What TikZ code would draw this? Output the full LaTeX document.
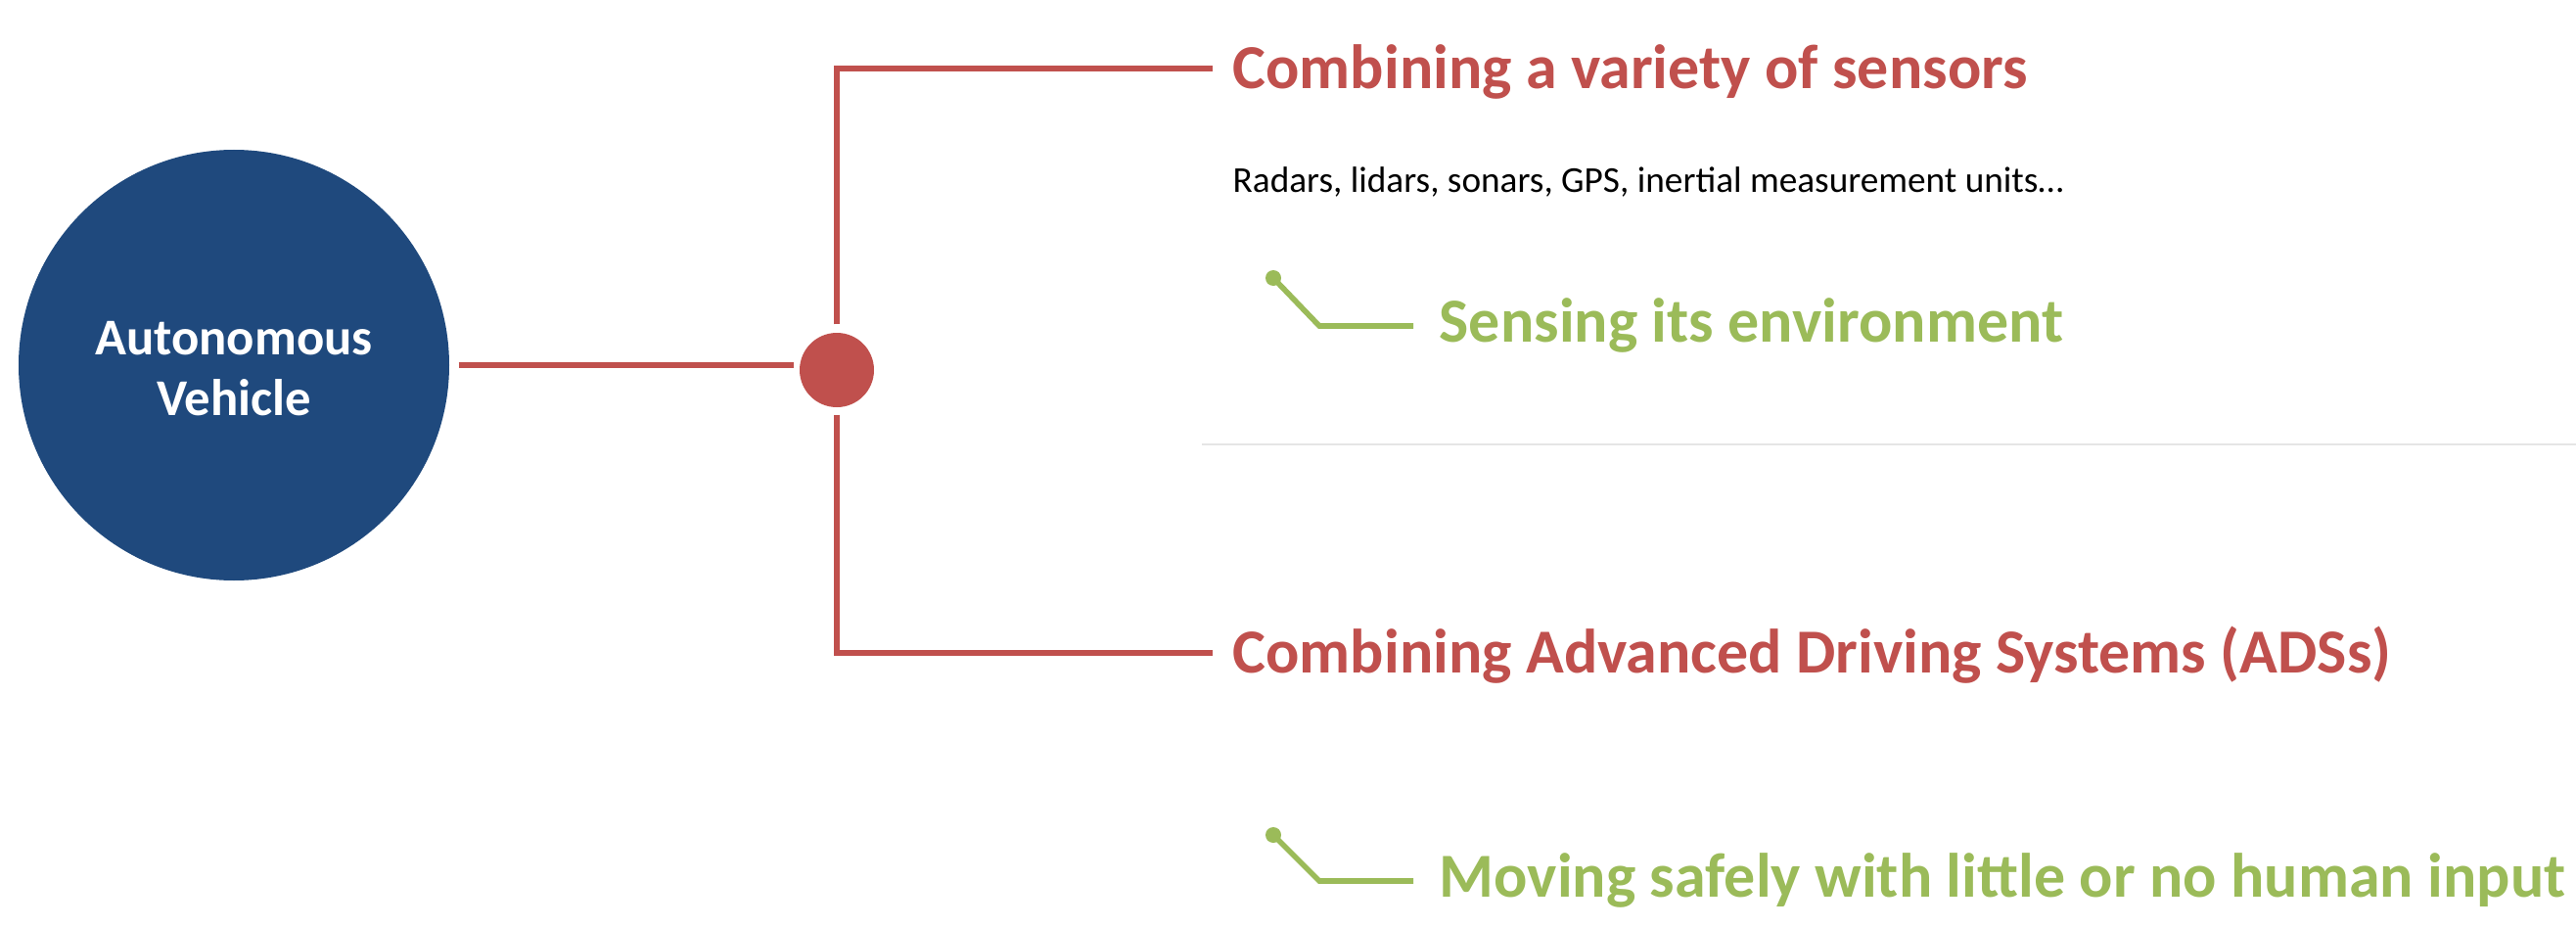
\documentclass[tikz,border=0pt]{standalone}
\usepackage{fontspec}
\setmainfont{Carlito}
\definecolor{avblue}{HTML}{1F497D}
\definecolor{avred}{HTML}{C0504D}
\definecolor{avgreen}{HTML}{9BBB59}
\begin{document}
\begin{tikzpicture}[
		redline/.style={avred,line width=1.7pt},
		greenline/.style={avgreen,line width=1.6pt},
		title/.style={anchor=west,inner sep=0pt,inner xsep=0.2cm,text height=0.41cm,text depth=0pt,
			text=avred,font=\bfseries\fontsize{18.2}{22}\selectfont},
		aim/.style={anchor=west,inner sep=0pt,inner xsep=0.26cm,text height=0.32cm,text depth=0pt,
			text=avgreen,font=\bfseries\fontsize{18.2}{22}\selectfont},
		pin/.style={circle,fill=avgreen,inner sep=0pt,minimum size=0.16cm}
	]
		\useasboundingbox (0,0) rectangle (26.32,9.46);

		% Main circle and hub
		\node[circle,fill=avblue,minimum size=4.4cm,inner sep=0pt,text=white,align=center,
			font=\bfseries\fontsize{15}{17.6}\selectfont] (av) at (2.39,5.73) {};
		\node[text=white,align=center,font=\bfseries\fontsize{15}{17.6}\selectfont] (avtext) at (2.39,5.69)
			{Autonomous\\Vehicle};
		\node[circle,fill=avred,minimum size=0.76cm,inner sep=0pt] (hub) at (8.55,5.68) {};

		% Branch titles
		\node[title] (sensors) at (12.39,8.76) {Combining a variety of sensors};
		\node[title] (ads) at (12.39,2.79) {Combining Advanced Driving Systems (ADSs)};

		% Detail text
		\node[anchor=base west,inner sep=0pt,font=\fontsize{10.6}{13}\selectfont] (detail) at (12.59,7.49)
			{Radars, lidars, sonars, GPS, inertial measurement units\dots};

		% Red branches
		\draw[redline,shorten <=0.09cm,shorten >=0.05cm] (av.east) -- (hub.west |- av.east);
		\draw[redline,shorten <=0.08cm] (hub) |- (sensors.west);
		\draw[redline,shorten <=0.07cm] (hub) |- (ads.west);

		% Separator
		\draw[black!10,line width=0.6pt] (12.28,4.92) -- (26.32,4.92);

		% Green aims
		\node[aim] (sense) at (14.44,6.13) {Sensing its environment};
		\node[pin] (pin1) at (13.01,6.62) {};
		\coordinate (k1) at (13.48,6.13);
		\draw[greenline] (pin1.center) -- (k1) -- (sense.west);

		\node[aim] (move) at (14.44,0.46) {Moving safely with little or no human input};
		\node[pin] (pin2) at (13.01,0.93) {};
		\coordinate (k2) at (13.48,0.46);
		\draw[greenline] (pin2.center) -- (k2) -- (move.west);
	\end{tikzpicture}
\end{document}
